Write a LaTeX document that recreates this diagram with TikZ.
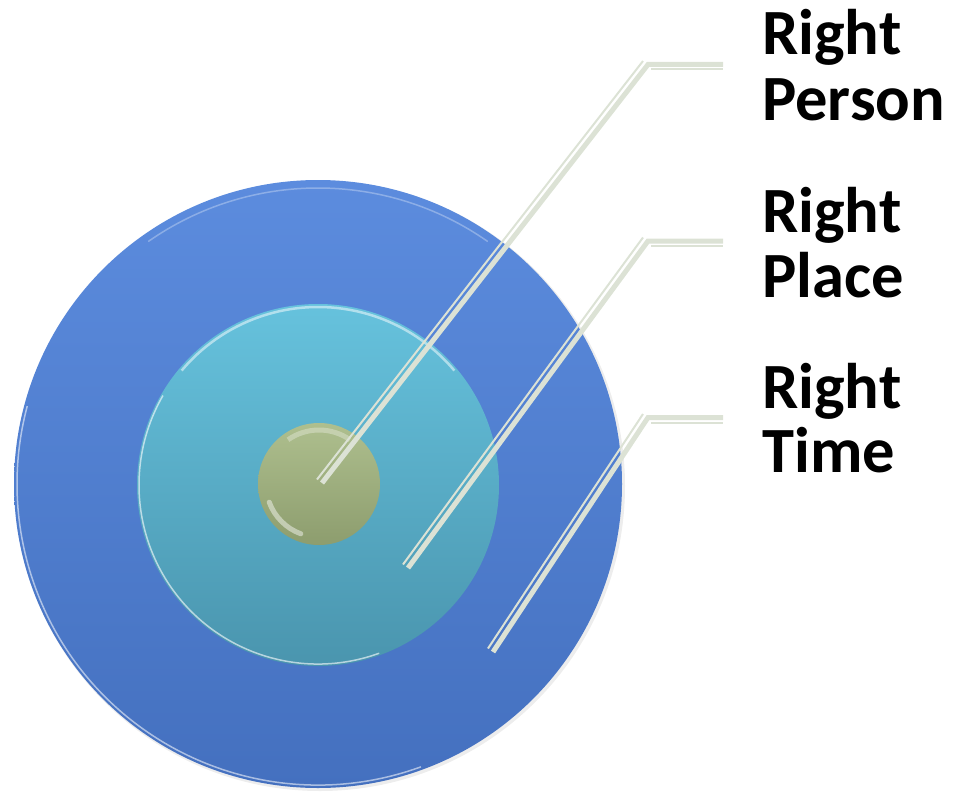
\documentclass[tikz,border=0pt]{standalone}
\usepackage{fontspec}
\setmainfont{Carlito}
\definecolor{outerTop}{HTML}{5C8CDE}
\definecolor{outerBot}{HTML}{4470BF}
\definecolor{midTop}{HTML}{66C2DD}
\definecolor{midBot}{HTML}{4A95AE}
\definecolor{inTop}{HTML}{AEBF8E}
\definecolor{inBot}{HTML}{8D9D6E}
\definecolor{leader}{HTML}{DCE2D5}
\tikzset{
  disc/.style={circle, inner sep=0pt, draw=none},
  thickleader/.style={draw=leader, line width=5pt, line join=miter},
  thinleader/.style={draw=leader, line width=2pt},
  rim/.style={white, line width=1.5pt, opacity=0.45},
  labeltext/.style={anchor=base west, inner sep=0pt, font=\fontsize{64.5}{65}\selectfont\bfseries}
}
\begin{document}
\begin{tikzpicture}[x=1pt,y=-1pt]
\useasboundingbox (0,0) rectangle (953,792);
% shadow
\fill[black, opacity=0.07] (320,486) circle (305);
% circles (y axis points down: arc angles are mirrored)
\node[disc, minimum size=608pt, top color=outerTop, bottom color=outerBot] (outer) at (318,484) {};
\draw[rim, opacity=0.55] (318,484) ++(70:301) arc (70:195:301);
\draw[rim, opacity=0.3] (318,484) ++(235:296) arc (235:305:296);
\node[disc, minimum size=362pt, top color=midTop, bottom color=midBot] (mid) at (318,485) {};
\draw[white, line width=2.5pt, opacity=0.5] (318,485) ++(220:178) arc (220:320:178);
\draw[rim, opacity=0.6] (318,485) ++(70:179) arc (70:210:179);
\node[disc, minimum size=122pt, top color=inTop, bottom color=inBot] (inner) at (319,484) {};
\draw[white, line width=5pt, opacity=0.3] (319,484) ++(235:54) arc (235:305:54);
\draw[white, line width=5pt, opacity=0.45, line cap=round] (319,484) ++(110:53) arc (110:160:53);
% anchor points of leaders
\coordinate (pA) at (322,483);
\coordinate (pB) at (648,64.5);
\coordinate (pC) at (723,64.5);
\coordinate (qA) at (408,568);
\coordinate (qB) at (648,241);
\coordinate (qC) at (723,241);
\coordinate (rA) at (493,652);
\coordinate (rB) at (648,417.5);
\coordinate (rC) at (723,417.5);
% leaders
\draw[thickleader] (pA) -- (pB) -- (pC);
\draw[thinleader] ([shift={(-5,-3.5)}]pA) -- ([shift={(-5,-3.5)}]pB);
\draw[thinleader] ([shift={(3,5)}]pB) -- ([shift={(0,5)}]pC);
\draw[thickleader] (qA) -- (qB) -- (qC);
\draw[thinleader] ([shift={(-5,-3.5)}]qA) -- ([shift={(-5,-3.5)}]qB);
\draw[thinleader] ([shift={(3,5)}]qB) -- ([shift={(0,5)}]qC);
\draw[thickleader] (rA) -- (rB) -- (rC);
\draw[thinleader] ([shift={(-5,-3.5)}]rA) -- ([shift={(-5,-3.5)}]rB);
\draw[thinleader] ([shift={(3,5)}]rB) -- ([shift={(0,5)}]rC);
% labels
\node[labeltext] (t1a) at (762,55) {Right};
\node[labeltext] (t1b) at (762,120) {Person};
\node[labeltext] (t2a) at (762,232) {Right};
\node[labeltext] (t2b) at (762,297) {Place};
\node[labeltext] (t3a) at (762,408) {Right};
\node[labeltext] (t3b) at (762,472) {Time};
\end{tikzpicture}
\end{document}
